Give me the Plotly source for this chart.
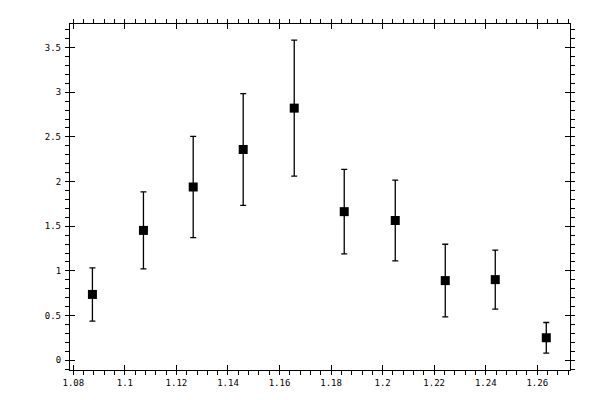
import plotly.graph_objects as go

# values
x_vals = [1.0874, 1.1072, 1.1265, 1.1459, 1.1657, 1.1851, 1.2049, 1.2243, 1.2437, 1.2635]
y_vals = [0.736, 1.453, 1.939, 2.359, 2.822, 1.663, 1.564, 0.891, 0.902, 0.251]
y_err = [0.298, 0.431, 0.567, 0.625, 0.762, 0.473, 0.452, 0.407, 0.330, 0.171]

x_ticks = [1.08, 1.1, 1.12, 1.14, 1.16, 1.18, 1.2, 1.22, 1.24, 1.26]
x_ticklabels = ["1.08", "1.1", "1.12", "1.14", "1.16", "1.18", "1.2", "1.22", "1.24", "1.26"]
y_ticks = [0, 0.5, 1, 1.5, 2, 2.5, 3, 3.5]
y_ticklabels = ["0", "0.5", "1", "1.5", "2", "2.5", "3", "3.5"]

x_range = [1.0787, 1.2727]
y_range = [-0.11, 3.764]

fig = go.Figure()
fig.add_trace(go.Scatter(
    x=x_vals, y=y_vals,
    mode="markers",
    marker=dict(symbol="square", size=9, color="black"),
    error_y=dict(type="data", array=y_err, visible=True,
                 color="black", thickness=1.3, width=3),
    showlegend=False,
))

axis_font = dict(family="DejaVu Sans Mono", size=9, color="black")

# main axes: outside ticks (major + minor), mirrored to the other side
# (margins allow for the 8px body margin of the html page)
fig.update_layout(
    width=600, height=400,
    margin=dict(l=62, r=38, t=11, b=38),
    paper_bgcolor="white", plot_bgcolor="white",
    xaxis=dict(
        range=x_range, tickvals=x_ticks, ticktext=x_ticklabels,
        showgrid=False, zeroline=False,
        showline=True, linecolor="black", linewidth=1.3, mirror="allticks",
        ticks="outside", ticklen=4, tickwidth=1.3, tickcolor="black",
        minor=dict(dtick=0.004, tick0=1.08, ticks="outside", ticklen=4,
                   tickwidth=1, tickcolor="black"),
        tickfont=axis_font,
        ticklabelstandoff=0,
    ),
    yaxis=dict(
        range=y_range, tickvals=y_ticks, ticktext=y_ticklabels,
        showgrid=False, zeroline=False,
        showline=True, linecolor="black", linewidth=1.3, mirror="allticks",
        ticks="outside", ticklen=4, tickwidth=1.3, tickcolor="black",
        minor=dict(dtick=0.1, tick0=0, ticks="outside", ticklen=4,
                   tickwidth=1, tickcolor="black"),
        tickfont=axis_font,
        ticklabelstandoff=2,
    ),
    # overlay axes so the major ticks cross the frame
    xaxis2=dict(
        overlaying="x", matches="x", range=x_range, tickvals=x_ticks,
        showticklabels=False, showgrid=False, zeroline=False,
        showline=False, mirror="allticks",
        ticks="inside", ticklen=5, tickwidth=1.3, tickcolor="black",
    ),
    yaxis2=dict(
        overlaying="y", matches="y", range=y_range, tickvals=y_ticks,
        showticklabels=False, showgrid=False, zeroline=False,
        showline=False, mirror="allticks",
        ticks="inside", ticklen=5, tickwidth=1.3, tickcolor="black",
    ),
)

# invisible trace to make the overlay axes appear
fig.add_trace(go.Scatter(x=[x_vals[0]], y=[y_vals[0]], xaxis="x2", yaxis="y2",
                         mode="markers", marker=dict(opacity=0),
                         showlegend=False, hoverinfo="skip"))

fig.write_html("out.html")
